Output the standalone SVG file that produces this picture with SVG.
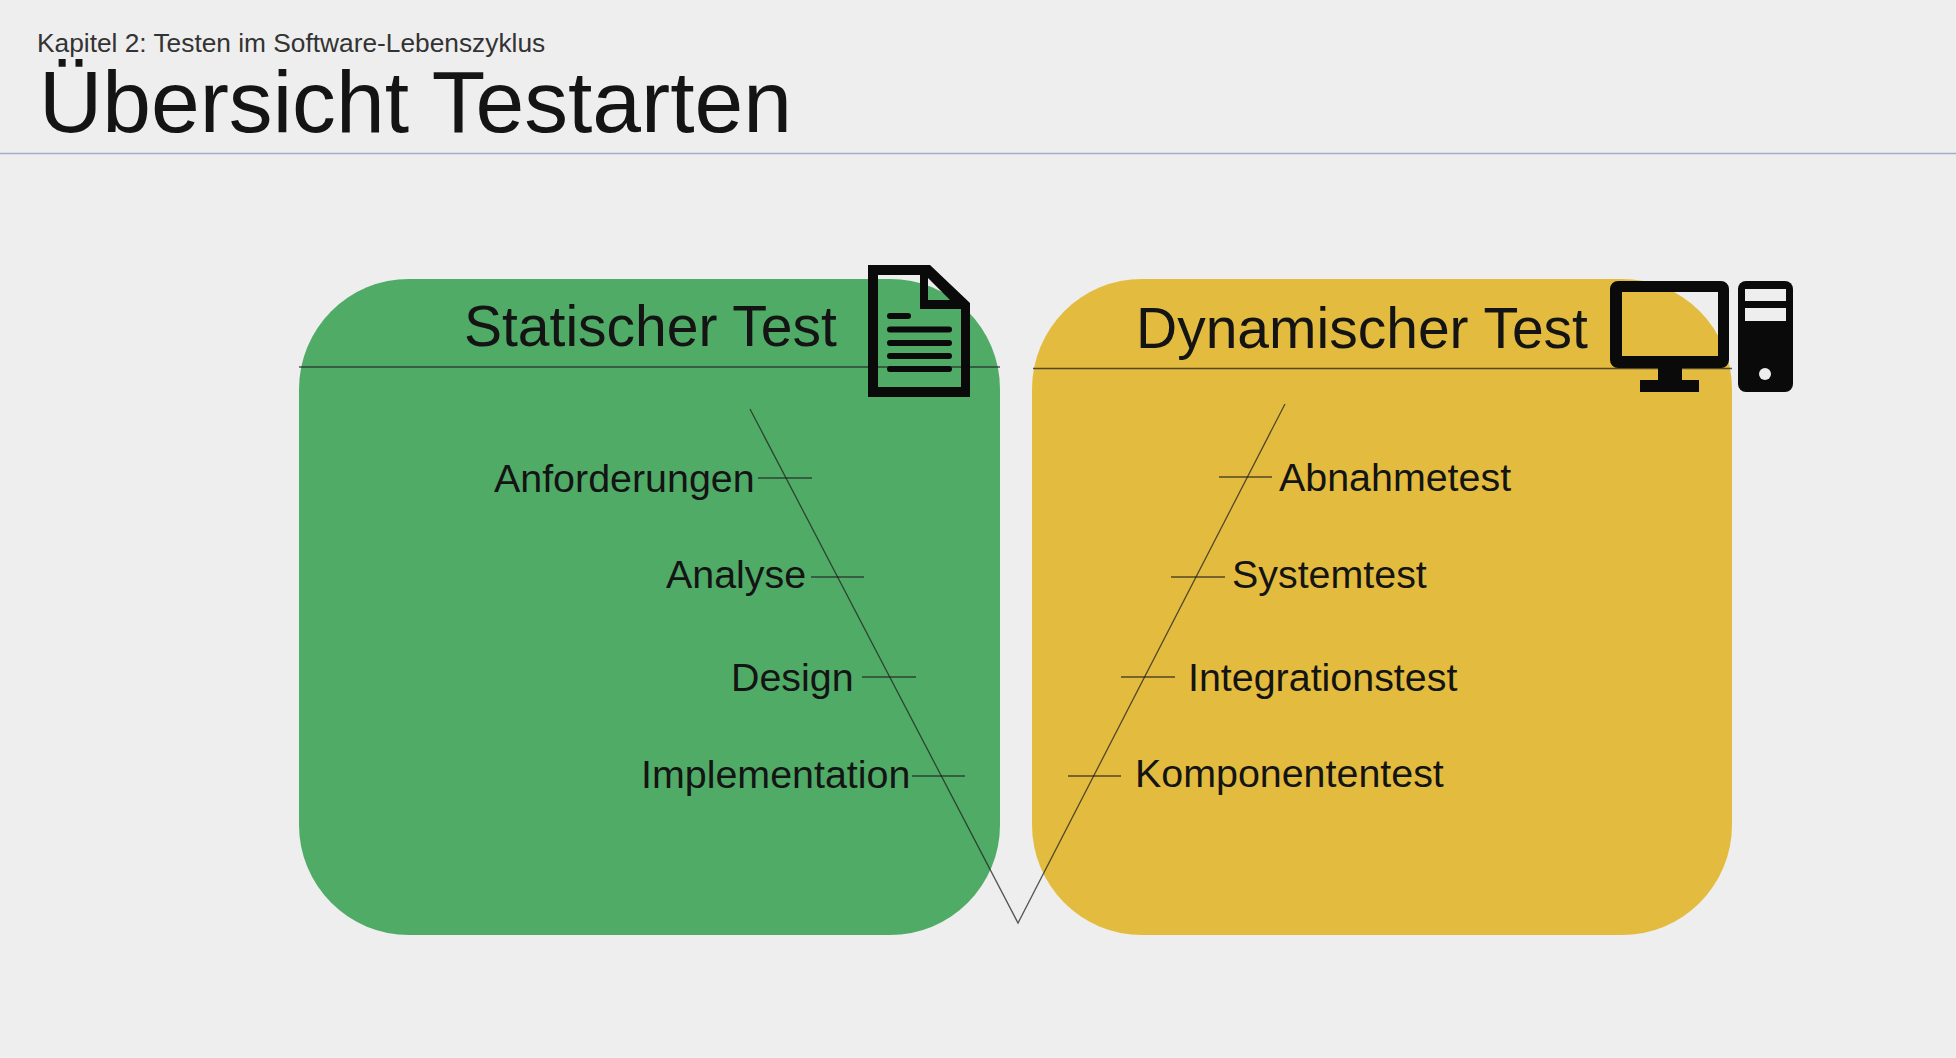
<svg xmlns="http://www.w3.org/2000/svg" width="1956" height="1058" viewBox="0 0 1956 1058">
<style>
text{font-family:"Liberation Sans",Arial,sans-serif;fill:#141414}
.lab{font-size:39.400px}
.head{font-size:57px}
.conn{stroke:#222;stroke-width:1.3;fill:none;opacity:.75}
.icon{fill:#0a0a0a}
</style>
<rect width="1956" height="1058" fill="#eeeeee"/>
<g id="header">
<text x="37" y="52" font-size="26.300" style="fill:#333">Kapitel 2: Testen im Software-Lebenszyklus</text>
<text x="39" y="132" font-size="87.600">Übersicht Testarten</text>
<line x1="0" y1="153.500" x2="1956" y2="153.500" stroke="#a4aecb" stroke-width="1.500"/>
</g>
<g id="static-panel">
<rect x="299" y="279" width="701" height="656" rx="110" fill="#50ab67"/>
<text class="head" x="464" y="346">Statischer Test</text>
</g>
<g id="dynamic-panel">
<rect x="1032" y="279" width="700" height="656" rx="110" fill="#e3bc3f"/>
<text class="head" x="1136" y="348">Dynamischer Test</text>
</g>
<g id="connectors">
<path class="conn" d="M299,367H1000M1033,368.500H1732"/>
<path class="conn" d="M750,409L1018,923L1285,404"/>
<path class="conn" d="M758,478H812M811,577H864M862,677H916M912,776H965"/>
<path class="conn" d="M1219,477H1272M1171,577H1225M1121,677H1175M1068,776H1121"/>
</g>
<g id="doc-icon">
<path class="icon" fill-rule="evenodd" d="M868,265H930L970,303V397H868ZM878,275V387H961V309H920V275ZM928,278V300H950Z"/>
<path d="M890,316H908M890,329.500H949M890,343H949M890,356H949M890,369H949" stroke="#0a0a0a" stroke-width="6" stroke-linecap="round"/>
</g>
<g id="computer-icon">
<path class="icon" fill-rule="evenodd" d="M1618,281H1721a8,8 0 0 1 8,8V360a8,8 0 0 1 -8,8H1618a8,8 0 0 1 -8,-8V289a8,8 0 0 1 8,-8ZM1622,292V356H1718V292Z"/>
<path class="icon" d="M1658,367H1682V380H1699V392H1640V380H1658Z"/>
<rect class="icon" x="1738" y="281" width="55" height="111" rx="8"/>
<rect x="1745" y="289" width="41" height="12" fill="#eeeeee"/>
<rect x="1745" y="308" width="41" height="13" fill="#eeeeee"/>
<circle cx="1765" cy="374" r="6" fill="#eeeeee"/>
</g>
<g id="node-anforderungen"><text class="lab" x="494" y="492">Anforderungen</text></g>
<g id="node-analyse"><text class="lab" x="666" y="588">Analyse</text></g>
<g id="node-design"><text class="lab" x="731" y="691">Design</text></g>
<g id="node-implementation"><text class="lab" x="641" y="788">Implementation</text></g>
<g id="node-abnahmetest"><text class="lab" x="1279" y="491">Abnahmetest</text></g>
<g id="node-systemtest"><text class="lab" x="1232" y="588">Systemtest</text></g>
<g id="node-integrationstest"><text class="lab" x="1188" y="691">Integrationstest</text></g>
<g id="node-komponententest"><text class="lab" x="1135" y="787">Komponententest</text></g>
</svg>
